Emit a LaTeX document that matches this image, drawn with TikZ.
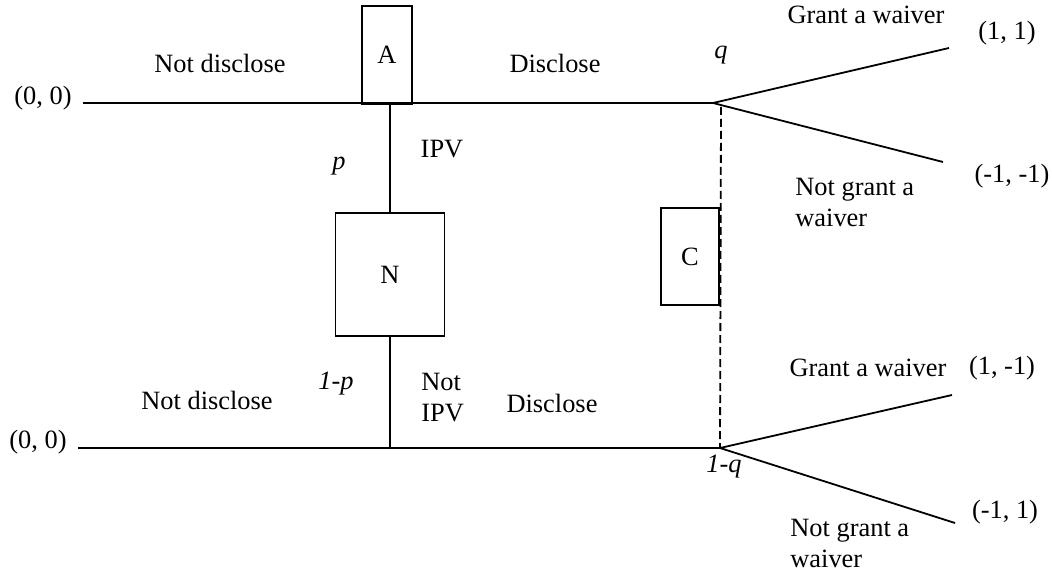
\documentclass[tikz,border=0pt]{standalone}
\usepackage{fontspec}
\setmainfont{Liberation Serif}
\usepackage{tikz}
\usetikzlibrary{positioning}

\begin{document}
\begin{tikzpicture}[
    x=0.5pt, y=-0.5pt,
    font=\fontsize{13.2}{15.5}\selectfont,
    player/.style={rectangle, draw, line width=0.9pt, inner sep=0pt},
    branch/.style={line width=0.9pt},
    info/.style={line width=0.9pt, dash pattern=on 4pt off 2pt},
    lbl/.style={inner sep=0pt},
    prob/.style={inner sep=0pt, font=\fontsize{13.2}{15.5}\selectfont\itshape},
    move/.style={inner sep=0pt, align=left}
]
    \useasboundingbox (0,0) rectangle (1052,571);

    % players
    \node [player, minimum width=25pt, minimum height=49pt] (A) at (387,55) {A};
    \node [player, minimum width=54.5pt, minimum height=61.5pt] (N) at (390,274.5) {N};
    \node [player, minimum width=29pt, minimum height=48.5pt] (C) at (690,256.5) {C};

    % points on the two lines
    \coordinate (top0) at (83,103);
    \coordinate (topA) at (390,103);
    \coordinate (q1) at (713,103);
    \coordinate (bot0) at (78,448);
    \coordinate (botN) at (390,448);
    \coordinate (q2) at (720,448);
    \coordinate (d1) at (721,107);
    \coordinate (e1) at (949,48);
    \coordinate (e2) at (943,162);
    \coordinate (e3) at (952,395);
    \coordinate (e4) at (955,523);

    % lines
    \draw [branch] (top0) -- (q1);
    \draw [branch] (bot0) -- (q2);
    \draw [branch] (topA) -- (N.north);
    \draw [branch] (N.south) -- (botN);
    \draw [branch] (e1) -- (q1) -- (e2);
    \draw [branch] (e3) -- (q2) -- (e4);
    \draw [info] (d1) -- (q2);

    % labels
    \node [lbl] (s1) at (43,98) {(0, 0)};
    \node [lbl] (s2) at (38,442) {(0, 0)};
    \node [lbl] (nd1) at (220,63) {Not disclose};
    \node [lbl] (d1l) at (555,63) {Disclose};
    \node [lbl] (nd2) at (207,400) {Not disclose};
    \node [lbl] (d2l) at (552,403) {Disclose};
    \node [lbl] (ipv) at (442,149) {IPV};
    \node [move, anchor=west] (nipv) at (421,398) {Not\\IPV};
    \node [prob] (p) at (339,166) {p};
    \node [prob] (p1) at (336,384) {1-p};
    \node [prob] (q) at (721,55) {q};
    \node [prob] (q1l) at (724,467) {1-q};

    \node [lbl] (g1) at (866,15) {Grant a waiver};
    \node [move, anchor=west] (ng1) at (795,202) {Not grant a\\waiver};
    \node [lbl] (g2) at (868,368) {Grant a waiver};
    \node [move, anchor=west] (ng2) at (790,543) {Not grant a\\waiver};

    \node [lbl] (u1) at (1007,33) {(1, 1)};
    \node [lbl] (u2) at (1012,176) {(-1, -1)};
    \node [lbl] (u3) at (1002,368) {(1, -1)};
    \node [lbl] (u4) at (1005,512) {(-1, 1)};
\end{tikzpicture}
\end{document}
